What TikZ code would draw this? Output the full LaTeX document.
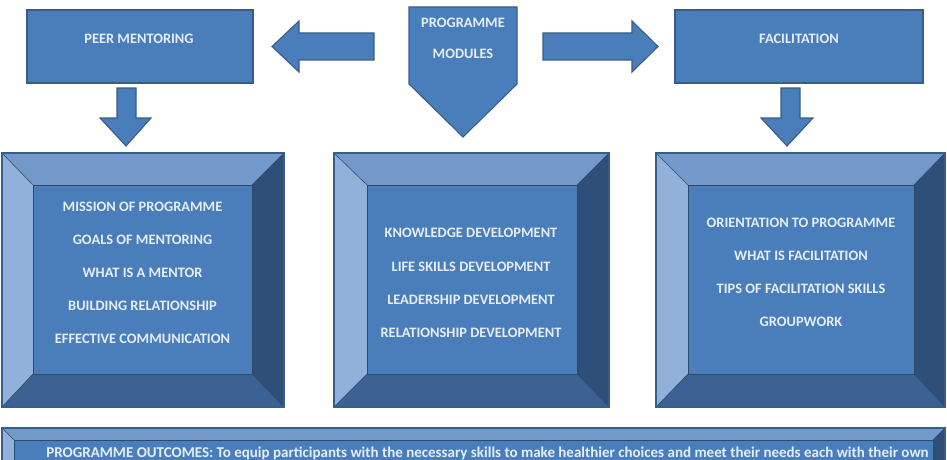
\documentclass[tikz,border=0pt]{standalone}
\usepackage{fontspec}
\setmainfont{Carlito}
\definecolor{boxblue}{HTML}{4A7EBB}
\definecolor{edgeblue}{HTML}{385D8A}
\definecolor{bvtop}{HTML}{7299CA}
\definecolor{bvleft}{HTML}{91B1DA}
\definecolor{bvright}{HTML}{2F4E78}
\definecolor{bvbottom}{HTML}{3C6294}
\definecolor{txtwhite}{HTML}{E6EDF7}
\newcommand\bvbox[9]{%
  % #1 name, #2-#5 outer x1 y1 x2 y2, #6-#9 inner x1 y1 x2 y2
  \coordinate (#1-o1) at (#2,#3);
  \coordinate (#1-o2) at (#4,#3);
  \coordinate (#1-o3) at (#4,#5);
  \coordinate (#1-o4) at (#2,#5);
  \coordinate (#1-i1) at (#6,#7);
  \coordinate (#1-i2) at (#8,#7);
  \coordinate (#1-i3) at (#8,#9);
  \coordinate (#1-i4) at (#6,#9);
  \fill[bvtop] (#1-o1) -- (#1-o2) -- (#1-i2) -- (#1-i1) -- cycle;
  \fill[bvleft] (#1-o1) -- (#1-i1) -- (#1-i4) -- (#1-o4) -- cycle;
  \fill[bvright] (#1-o2) -- (#1-o3) -- (#1-i3) -- (#1-i2) -- cycle;
  \fill[bvbottom] (#1-o4) -- (#1-i4) -- (#1-i3) -- (#1-o3) -- cycle;
  \fill[boxblue] (#1-i1) rectangle (#1-i3);
  \draw[bvline] (#1-o1) -- (#1-i1) (#1-o2) -- (#1-i2) (#1-o3) -- (#1-i3) (#1-o4) -- (#1-i4);
  \draw[bvline] (#1-i1) rectangle (#1-i3);
  \draw[edgeline] (#1-o1) rectangle (#1-o3);
}
\begin{document}
\begin{tikzpicture}[x=1pt,y=-1pt,
  blk/.style={fill=boxblue, draw=edgeblue, line width=1.1pt, line join=miter},
  edgeline/.style={draw=edgeblue, line width=1.1pt},
  bvline/.style={draw=edgeblue!80!black, line width=0.6pt},
  lbl/.style={text=txtwhite, font=\bfseries\fontsize{14.4}{17}\selectfont, inner sep=0pt, anchor=center},
  outl/.style={text=txtwhite, font=\bfseries\fontsize{15}{17}\selectfont, inner sep=0pt, anchor=center}
]
\useasboundingbox (0,0) rectangle (947,460);
\clip (0,0) rectangle (947,460);

% top boxes
\draw[blk] (27,10) rectangle (253,83);
\node[lbl] (peer) at (139,39) {PEER MENTORING};
\draw[blk] (675,10) rectangle (923,83);
\node[lbl] (fac) at (799,39) {FACILITATION};

% programme modules pentagon
\draw[blk] (409,7) -- (517,7) -- (517,84) -- (463,137) -- (409,84) -- cycle;
\node[lbl] (pm1) at (463,23) {PROGRAMME};
\node[lbl] (pm2) at (463,54) {MODULES};

% horizontal block arrows
\draw[blk] (374,33) -- (299,33) -- (299,21) -- (272,46.5) -- (299,72) -- (299,60) -- (374,60) -- cycle;
\draw[blk] (543,33) -- (632,33) -- (632,21) -- (658,46.5) -- (632,72) -- (632,60) -- (543,60) -- cycle;

% vertical block arrows
\draw[blk] (117,88) -- (136,88) -- (136,118) -- (151,118) -- (126,146) -- (100,118) -- (117,118) -- cycle;
\draw[blk] (781,88) -- (800,88) -- (800,118) -- (813,118) -- (787,146) -- (761,118) -- (781,118) -- cycle;

% bevel boxes
\bvbox{bl}{2}{153}{284}{407}{33}{185}{252}{374}
\bvbox{bm}{334}{153}{609}{407}{367}{185}{577}{374}
\bvbox{br}{656}{153}{945}{407}{688}{185}{914}{374}
\bvbox{bb}{2}{428}{945}{490}{14}{440}{933}{478}

\node[lbl] (m1) at (142.5,207) {MISSION OF PROGRAMME};
\node[lbl] (m2) at (142.5,239.5) {GOALS OF MENTORING};
\node[lbl] (m3) at (142.5,272.5) {WHAT IS A MENTOR};
\node[lbl] (m4) at (142.5,305.5) {BUILDING RELATIONSHIP};
\node[lbl] (m5) at (142.5,338.5) {EFFECTIVE COMMUNICATION};

\node[lbl] (k1) at (471,233) {KNOWLEDGE DEVELOPMENT};
\node[lbl] (k2) at (471,266.5) {LIFE SKILLS DEVELOPMENT};
\node[lbl] (k3) at (471,299.5) {LEADERSHIP DEVELOPMENT};
\node[lbl] (k4) at (471,332.5) {RELATIONSHIP DEVELOPMENT};

\node[lbl] (f1) at (801,222.5) {ORIENTATION TO PROGRAMME};
\node[lbl] (f2) at (801,255.5) {WHAT IS FACILITATION};
\node[lbl] (f3) at (801,288.5) {TIPS OF FACILITATION SKILLS};
\node[lbl] (f4) at (801,322) {GROUPWORK};

\node[outl] (out) at (487.5,453.5) {PROGRAMME OUTCOMES: To equip participants with the necessary skills to make healthier choices and meet their needs each with their own};
\end{tikzpicture}
\end{document}
